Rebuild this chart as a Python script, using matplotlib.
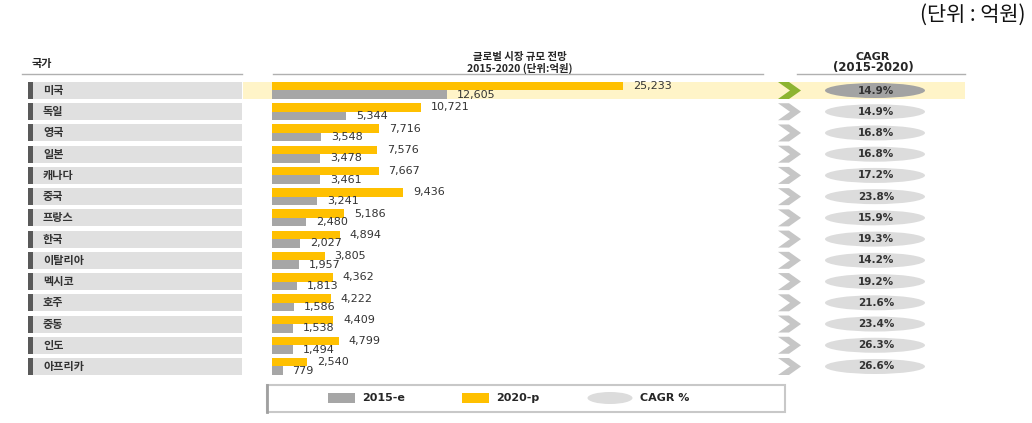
import matplotlib
matplotlib.use("Agg")
import matplotlib.pyplot as plt
from matplotlib.patches import Rectangle, Ellipse, Polygon

plt.rcParams['font.family'] = ['Noto Sans CJK KR', 'DejaVu Sans']

# data
countries = ['미국', '독일', '영국', '일본', '캐나다', '중국', '프랑스', '한국',
             '이탈리아', '멕시코', '호주', '중동', '인도', '아프리카']
v2020 = [25233, 10721, 7716, 7576, 7667, 9436, 5186, 4894, 3805, 4362, 4222, 4409, 4799, 2540]
v2015 = [12605, 5344, 3548, 3478, 3461, 3241, 2480, 2027, 1957, 1813, 1586, 1538, 1494, 779]
cagr = ['14.9%', '14.9%', '16.8%', '16.8%', '17.2%', '23.8%', '15.9%', '19.3%',
        '14.2%', '19.2%', '21.6%', '23.4%', '26.3%', '26.6%']

YELLOW = '#FFC000'
GRAY = '#A6A6A6'
TXT = '#262626'

W, H = 1032, 423
fig = plt.figure(figsize=(W / 100, H / 100), dpi=100)

# background axes in pixel coordinates
bg = fig.add_axes([0, 0, 1, 1])
bg.set_xlim(0, W)
bg.set_ylim(H, 0)
bg.axis('off')

row0, pitch, rowh = 90.5, 21.23, 17
rows = [row0 + i * pitch for i in range(len(countries))]

# title
bg.text(1026, 15, '(단위 : 억원)', ha='right', va='center', fontsize=15, color='#111111')

# headers
bg.text(32, 63, '국가', ha='left', va='center', fontsize=8, fontweight='bold', color=TXT)
bg.text(520, 57, '글로벌 시장 규모 전망', ha='center', va='center', fontsize=7.5, fontweight='bold', color=TXT)
bg.text(520, 68.5, '2015-2020 (단위:억원)', ha='center', va='center', fontsize=7.5, fontweight='bold', color=TXT)
bg.text(873, 57, 'CAGR', ha='center', va='center', fontsize=8, fontweight='bold', color=TXT, family='DejaVu Sans')
bg.text(873, 68, '(2015-2020)', ha='center', va='center', fontsize=8.5, fontweight='bold', color=TXT, family='DejaVu Sans')
for x0, x1 in [(22, 242), (273, 763), (797, 965)]:
    bg.plot([x0, x1], [74, 74], color='#b0b0b0', lw=1)

# highlight first row
bg.add_patch(Rectangle((243, rows[0] - rowh / 2), 965 - 243, rowh, color='#FFF4C8', lw=0, zorder=0))

for i, (name, c) in enumerate(zip(countries, cagr)):
    yc = rows[i]
    bg.add_patch(Rectangle((28, yc - rowh / 2), 214, rowh, color='#E0E0E0', lw=0))
    bg.add_patch(Rectangle((28, yc - rowh / 2), 4.5, rowh, color='#595959', lw=0))
    bg.text(43, yc, name, ha='left', va='center', fontsize=8, fontweight='bold', color='#333333')
    # chevron
    x0, w, a, h = 778, 23, 11, 17
    pts = [(x0, yc - h / 2), (x0 + a, yc - h / 2), (x0 + w, yc), (x0 + a, yc + h / 2),
           (x0, yc + h / 2), (x0 + w - a, yc)]
    bg.add_patch(Polygon(pts, closed=True, color='#8DB431' if i == 0 else '#C6C6C6', lw=0))
    # CAGR ellipse
    bg.add_patch(Ellipse((875, yc), 100, 15, color='#A3A3A3' if i == 0 else '#DCDCDC', lw=0))
    bg.text(876, yc, c, ha='center', va='center', fontsize=7.5, fontweight='bold',
            color='#333333', family='DejaVu Sans')

# bars axes: same vertical pixel scale, x in 억원
bx0 = 272
ax = fig.add_axes([bx0 / W, 0, (W - bx0) / W, 1])
ax.set_ylim(H, 0)
ax.set_xlim(0, v2020[0] / 351 * (W - bx0))
ax.axis('off')
ax.patch.set_alpha(0)

bh = 8.5
y_top = [y - bh / 2 for y in rows]
y_bot = [y + bh / 2 for y in rows]
ax.barh(y_top, v2020, height=bh, color=YELLOW, lw=0)
ax.barh(y_bot, v2015, height=bh, color=GRAY, lw=0)
for yt, yb, a, b in zip(y_top, y_bot, v2020, v2015):
    ax.annotate(f'{a:,}', (a, yt), xytext=(7, 0), textcoords='offset points',
                ha='left', va='center', fontsize=8, color='#333333', family='DejaVu Sans')
    ax.annotate(f'{b:,}', (b, yb), xytext=(7, 0), textcoords='offset points',
                ha='left', va='center', fontsize=8, color='#333333', family='DejaVu Sans')

# legend box
bg.add_patch(Rectangle((267, 385), 785 - 267, 27, facecolor='white', edgecolor='#C8C8C8', lw=1.5))
bg.plot([267, 267], [385, 412], color='#A0A0A0', lw=2)
bg.add_patch(Rectangle((328, 393), 27, 10, color=GRAY, lw=0))
bg.text(362, 398, '2015-e', ha='left', va='center', fontsize=8, fontweight='bold', color=TXT, family='DejaVu Sans')
bg.add_patch(Rectangle((462, 393), 27, 10, color=YELLOW, lw=0))
bg.text(496, 398, '2020-p', ha='left', va='center', fontsize=8, fontweight='bold', color=TXT, family='DejaVu Sans')
bg.add_patch(Ellipse((610, 398), 45, 12, color='#DCDCDC', lw=0))
bg.text(640, 398, 'CAGR %', ha='left', va='center', fontsize=8, fontweight='bold', color=TXT, family='DejaVu Sans')

fig.savefig('out.png', dpi=100)
